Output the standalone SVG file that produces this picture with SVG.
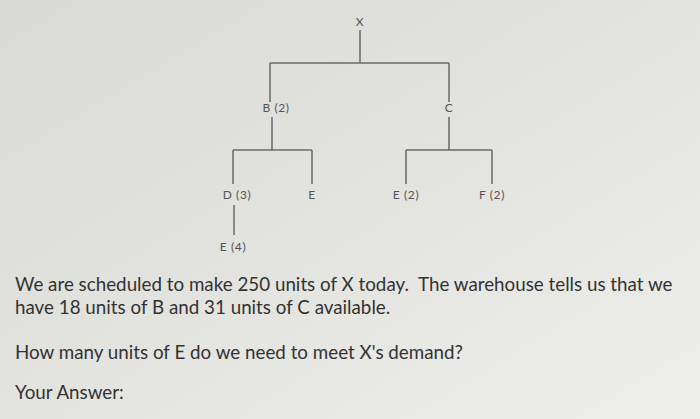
<svg xmlns="http://www.w3.org/2000/svg" width="700" height="419" viewBox="0 0 700 419">
<defs>
<linearGradient id="bg" x1="0" y1="0" x2="1" y2="1">
<stop offset="0" stop-color="#d9d9d5"/>
<stop offset="0.6" stop-color="#e5e5e2"/>
<stop offset="1" stop-color="#eeeeec"/>
</linearGradient>
<style>
.ln{stroke:#6a6a6a;stroke-width:1.5;fill:none}
.lb{font-family:Lato,"Liberation Sans",sans-serif;font-size:12px;letter-spacing:0.6px;fill:#555;text-anchor:middle}
.tx{font-family:Lato,"Liberation Sans",sans-serif;font-size:18.8px;fill:#333}
</style>
</defs>
<rect width="700" height="419" fill="url(#bg)"/>
<g id="connectors">
<path class="ln" d="M360 30V63M270 63H449M270 63V102M449 63V102"/>
<path class="ln" d="M272 117V150M233 150H312M233 150V184M312 150V184"/>
<path class="ln" d="M449 117V150M406 150H492M406 150V184M492 150V184"/>
<path class="ln" d="M234 205V235"/>
</g>
<g id="node-X"><text class="lb" x="360" y="26">X</text></g>
<g id="node-B"><text class="lb" x="276" y="112">B (2)</text></g>
<g id="node-C"><text class="lb" x="449" y="112">C</text></g>
<g id="node-D"><text class="lb" x="237" y="199">D (3)</text></g>
<g id="node-E1"><text class="lb" x="312" y="199">E</text></g>
<g id="node-E2"><text class="lb" x="406" y="199">E (2)</text></g>
<g id="node-F"><text class="lb" x="492" y="199">F (2)</text></g>
<g id="node-E4"><text class="lb" x="233" y="251">E (4)</text></g>
<g id="question">
<text class="tx" x="15" y="291" xml:space="preserve">We are scheduled to make 250 units of X today.  The warehouse tells us that we</text>
<text class="tx" x="15" y="314">have 18 units of B and 31 units of C available.</text>
<text class="tx" x="15" y="359">How many units of E do we need to meet X's demand?</text>
<text class="tx" x="15" y="399">Your Answer:</text>
</g>
</svg>
